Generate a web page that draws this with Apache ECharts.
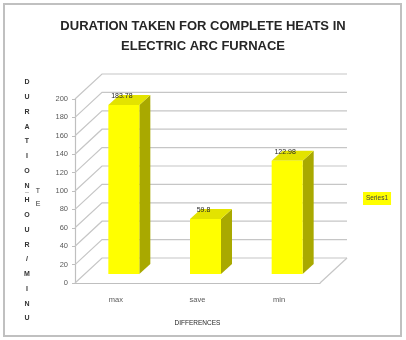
<!DOCTYPE html>
<html>
<head>
<meta charset="utf-8">
<title>Duration taken for complete heats</title>
<script src="https://cdn.jsdelivr.net/npm/echarts@6/dist/echarts.min.js"></script>
<style>
  html, body { margin: 0; padding: 0; background: #fff; }
  #chart { width: 406px; height: 340px; }
</style>
</head>
<body>
<div id="chart"></div>
<script>
// data
const categories = ['max', 'save', 'min'];
const durations = [183.78, 59.8, 122.98];
const durationLabels = ['183.78', '59.8', '122.98'];
const yTicks = [0, 20, 40, 60, 80, 100, 120, 140, 160, 180, 200];
const yTitleLetters = ['D', 'U', 'R', 'A', 'T', 'I', 'O', 'N', 'H', 'O', 'U', 'R', '/', 'M', 'I', 'N', 'U'];

// fake 3d offsets (pixels)
const wallDepth = { x: 27, y: -25 };
const barShift = { x: 8, y: -9 };
const barDepth = { x: 11, y: -10 };
const barWidth = 31;

const chart = echarts.init(document.getElementById('chart'));
const font = 'Liberation Sans';

function renderWalls(params, api) {
  const cs = params.coordSys;
  const y = api.coord([0, api.value(1)])[1];
  const left = cs.x;
  const right = cs.x + cs.width;
  const line = { fill: 'none', stroke: '#c6c6c6', lineWidth: 1.2 };
  const children = [
    { type: 'polyline', shape: { points: [[left, y], [left + wallDepth.x, y + wallDepth.y], [right + wallDepth.x, y + wallDepth.y]] }, style: line }
  ];
  if (api.value(1) === 0) {
    // floor right edge
    children.push({ type: 'line', shape: { x1: right, y1: y, x2: right + wallDepth.x, y2: y + wallDepth.y }, style: line });
  }
  return { type: 'group', children: children };
}

function renderBar(params, api) {
  const base = api.coord([api.value(0), 0]);
  const top = api.coord([api.value(0), api.value(1)]);
  const x0 = base[0] + barShift.x - barWidth / 2;
  const x1 = x0 + barWidth;
  const yb = base[1] + barShift.y;
  const yt = top[1] + barShift.y;
  const dx = barDepth.x, dy = barDepth.y;
  return {
    type: 'group',
    children: [
      { type: 'polygon', shape: { points: [[x1, yb], [x1 + dx, yb + dy], [x1 + dx, yt + dy], [x1, yt]] }, style: { fill: '#a9a900' } },
      { type: 'polygon', shape: { points: [[x0, yt], [x1, yt], [x1 + dx, yt + dy], [x0 + dx, yt + dy]] }, style: { fill: '#e3e300' } },
      { type: 'rect', shape: { x: x0, y: yt, width: barWidth, height: yb - yt }, style: { fill: '#ffff00' } },
      {
        type: 'text',
        z2: 10,
        style: {
          x: (x0 + x1) / 2 - 2, y: yt - 9,
          text: durationLabels[params.dataIndex],
          fontSize: 7, fontFamily: font, fill: '#262626', opacity: 1,
          align: 'center', verticalAlign: 'middle'
        }
      }
    ]
  };
}

const option = {
  animation: false,
  title: {
    text: 'DURATION TAKEN FOR COMPLETE HEATS IN\nELECTRIC ARC FURNACE',
    left: 'center',
    top: 11,
    textStyle: { fontSize: 13, fontWeight: 'bold', fontFamily: font, color: '#262626', lineHeight: 20 }
  },
  legend: {
    data: [{ name: 'Series1' }],
    left: 363, top: 192,
    backgroundColor: '#ffff00',
    padding: [3, 3],
    itemWidth: 0, itemHeight: 0, itemGap: 0,
    textStyle: { fontSize: 6.5, fontFamily: font, color: '#404040', padding: [0, 0, 0, -5] }
  },
  grid: { left: 75, right: 86, top: 99, bottom: 57 },
  xAxis: {
    type: 'category',
    data: categories,
    name: 'DIFFERENCES',
    nameLocation: 'middle',
    nameGap: 37,
    nameTextStyle: { fontSize: 6.5, fontFamily: font, color: '#262626' },
    axisLine: { lineStyle: { color: '#bfbfbf', width: 1.2 } },
    axisTick: { length: 3, lineStyle: { color: '#bfbfbf' } },
    axisLabel: { fontSize: 7.5, fontFamily: font, color: '#595959', margin: 13 }
  },
  yAxis: {
    type: 'value',
    min: 0, max: 200, interval: 20,
    axisLine: { show: true, lineStyle: { color: '#bfbfbf', width: 1.2 } },
    axisTick: { show: true, length: 3, lineStyle: { color: '#bfbfbf' } },
    axisLabel: { fontSize: 7.5, fontFamily: font, color: '#595959', margin: 7 },
    splitLine: { show: false }
  },
  series: [
    {
      name: 'walls',
      type: 'custom',
      renderItem: renderWalls,
      data: yTicks.map(t => [0, t]),
      silent: true,
      z: 1
    },
    {
      name: 'Series1',
      type: 'custom',
      renderItem: renderBar,
      itemStyle: { color: '#ffff00' },
      data: durations.map((v, i) => [i, v]),
      z: 2
    }
  ],
  graphic: [
    { type: 'rect', shape: { x: 4, y: 4, width: 397, height: 332 }, style: { fill: 'none', stroke: '#c0c0c0', lineWidth: 2 } },
    {
      type: 'text', x: 27, y: 75,
      style: { text: yTitleLetters.join('\n'), fontSize: 7, fontWeight: 'bold', fontFamily: font, fill: '#333', lineHeight: 14.75, align: 'center', verticalAlign: 'top' }
    },
    { type: 'text', x: 27, y: 187, style: { text: '_', fontSize: 7, fontWeight: 'bold', fontFamily: font, fill: '#333', align: 'center' } },
    {
      type: 'text', x: 38, y: 185,
      style: { text: 'T\nE', fontSize: 7, fontFamily: font, fill: '#333', lineHeight: 13, align: 'center', verticalAlign: 'top' }
    }
  ]
};

chart.setOption(option);
</script>
</body>
</html>
